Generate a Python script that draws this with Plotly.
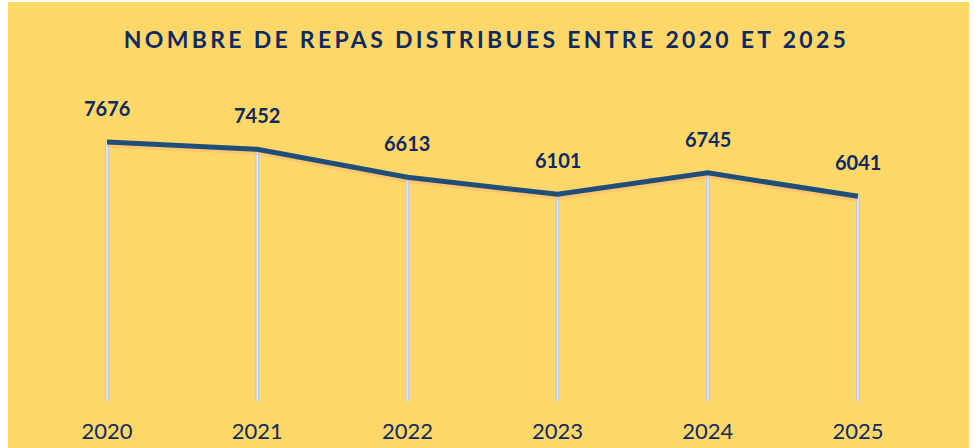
import plotly.graph_objects as go

years = ["2020", "2021", "2022", "2023", "2024", "2025"]
repas = [7676, 7452, 6613, 6101, 6745, 6041]
title_text = "NOMBRE DE REPAS DISTRIBUES ENTRE 2020 ET 2025"

NAVY = "#0f2a63"
LINE = "#1f4e79"
BG = "#fdd868"

W, H = 975, 448
ml, mr, mt, mb = 32, 42, 56, 47
ymin, ymax = -105, 10255
idx = list(range(len(years)))
drop = [v - ymin for v in repas]

fig = go.Figure()

# drop lines (Excel "drop lines")
fig.add_trace(go.Scatter(
    x=idx, y=repas, mode="markers",
    marker=dict(size=0.1, color="rgba(0,0,0,0)"),
    error_y=dict(type="data", symmetric=False, array=[0] * len(repas),
                 arrayminus=drop, color="#b9c4e2", thickness=3.4, width=0),
    hoverinfo="skip", showlegend=False,
))
fig.add_trace(go.Scatter(
    x=idx, y=repas, mode="markers",
    marker=dict(size=0.1, color="rgba(0,0,0,0)"),
    error_y=dict(type="data", symmetric=False, array=[0] * len(repas),
                 arrayminus=drop, color="#e4e8f6", thickness=1.6, width=0),
    hoverinfo="skip", showlegend=False,
))

# soft shadow under the line
px_per_unit = (H - mt - mb) / (ymax - ymin)
fig.add_trace(go.Scatter(
    x=idx, y=[v - 3 / px_per_unit for v in repas], mode="lines",
    line=dict(color="rgba(255,175,120,0.45)", width=5),
    hoverinfo="skip", showlegend=False,
))

fig.add_trace(go.Scatter(
    x=idx, y=repas, mode="lines",
    line=dict(color=LINE, width=5),
    showlegend=False,
))

for i, v in zip(idx, repas):
    fig.add_annotation(
        x=i, y=v, text=f"<b>{v}</b>", showarrow=False,
        yshift=34, xanchor="center", yanchor="middle",
        font=dict(family="Lato", size=20, color=NAVY),
    )

# yellow chart area background
fig.add_shape(type="rect", xref="paper", yref="paper",
              x0=(8 - ml) / (W - ml - mr), x1=(969 - ml) / (W - ml - mr),
              y0=-mb / (H - mt - mb), y1=(H - 2 - mb) / (H - mt - mb),
              fillcolor=BG, line=dict(width=0), layer="below")

fig.update_layout(
    width=W, height=H,
    margin=dict(l=ml, r=mr, t=mt, b=mb, autoexpand=False),
    paper_bgcolor="white",
    plot_bgcolor="rgba(0,0,0,0)",
    title=dict(text=f"<b>{title_text}</b>", x=(125 + 848) / 2 / W, xanchor="center",
               y=1 - 40 / H, yanchor="middle",
               font=dict(family="Lato", size=23, color=NAVY)),
    xaxis=dict(range=[-0.5, len(years) - 0.5], tickmode="array", tickvals=idx,
               ticktext=years, showgrid=False, zeroline=False, showline=False,
               ticks="", ticklabelstandoff=15, automargin=False,
               tickfont=dict(family="Lato", size=22, color=NAVY)),
    yaxis=dict(range=[ymin, ymax], visible=False, showgrid=False, zeroline=False,
               automargin=False),
)

post = """
document.body.style.margin = '0';
document.body.style.overflow = 'hidden';
var t = document.querySelector('.gtitle');
if (t) { t.style.letterSpacing = '3.3px'; }
"""

fig.write_html("out.html", post_script=post, config={"displayModeBar": False})
